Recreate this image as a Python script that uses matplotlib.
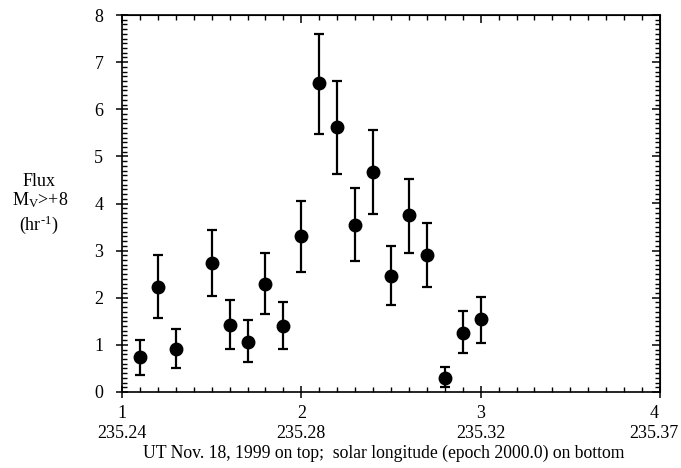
import matplotlib
matplotlib.use("Agg")
import matplotlib.pyplot as plt
import matplotlib.transforms as mtransforms
from matplotlib.ticker import MultipleLocator, NullFormatter

plt.rcParams['font.family'] = ['Liberation Serif', 'DejaVu Serif']
plt.rcParams['mathtext.fontset'] = 'custom'
plt.rcParams['mathtext.rm'] = 'Liberation Serif'
plt.rcParams['mathtext.it'] = 'Liberation Serif:italic'

x = [1.1, 1.2, 1.3, 1.5, 1.6, 1.7, 1.8, 1.9, 2.0, 2.1, 2.2, 2.3, 2.4, 2.5, 2.6, 2.7, 2.8, 2.9, 3.0]
flux = [0.75, 2.23, 0.92, 2.73, 1.43, 1.07, 2.30, 1.40, 3.30, 6.55, 5.63, 3.55, 4.67, 2.47, 3.75, 2.90, 0.30, 1.25, 1.55]
err_low = [0.37, 1.58, 0.50, 2.03, 0.92, 0.63, 1.65, 0.92, 2.55, 5.47, 4.63, 2.77, 3.78, 1.84, 2.96, 2.22, 0.10, 0.82, 1.05]
err_high = [1.10, 2.90, 1.33, 3.43, 1.96, 1.52, 2.96, 1.90, 4.05, 7.60, 6.60, 4.32, 5.57, 3.10, 4.53, 3.58, 0.52, 1.72, 2.02]
xtick_vals = [1, 2, 3, 4]
xtick_labels = ["1\n235.24", "2\n235.28", "3\n235.32", "4\n235.37"]
ytick_vals = [0, 1, 2, 3, 4, 5, 6, 7, 8]

yerr = [[f - lo for f, lo in zip(flux, err_low)], [hi - f for f, hi in zip(flux, err_high)]]

fig = plt.figure(figsize=(6.81, 4.68), dpi=100)
ax = fig.add_axes([122/681, 1-392/468, (660-122)/681, (392-15)/468])

ax.errorbar(x, flux, yerr=yerr, fmt='o', color='black', ms=9, capsize=3.5,
            elinewidth=1.6, capthick=1.6, zorder=3)

ax.set_xlim(1, 4)
ax.set_ylim(0, 8)
ax.set_xticks(xtick_vals)
ax.set_xticklabels(xtick_labels, linespacing=1.25)
ax.set_yticks(ytick_vals)
ax.xaxis.set_minor_locator(MultipleLocator(0.1))
ax.yaxis.set_minor_locator(MultipleLocator(0.1))
ax.tick_params(which='major', direction='inout', length=9, width=1.1, labelsize=13)
ax.tick_params(which='minor', direction='in', length=3.5, width=1.0)
ax.tick_params(axis='x', which='major', pad=5)
ax.tick_params(axis='y', which='major', pad=9)
for s in ax.spines.values():
    s.set_linewidth(1.2)

# nudge the last bottom label left so it fits, as in the reference
last = ax.get_xticklabels()[-1]
last.set_transform(last.get_transform() + mtransforms.ScaledTranslation(-6/100, 0, fig.dpi_scale_trans))

top = ax.secondary_xaxis('top')
top.set_xticks(xtick_vals)
top.xaxis.set_minor_locator(MultipleLocator(0.1))
top.xaxis.set_major_formatter(NullFormatter())
top.tick_params(which='major', direction='in', length=6, width=1.1)
top.tick_params(which='minor', direction='in', length=3.5, width=1.0)

right = ax.secondary_yaxis('right')
right.set_yticks(ytick_vals)
right.yaxis.set_minor_locator(MultipleLocator(0.1))
right.yaxis.set_major_formatter(NullFormatter())
right.tick_params(which='major', direction='in', length=6, width=1.1)
right.tick_params(which='minor', direction='in', length=3.5, width=1.0)

fig.text(384/681, 1-453/468, "UT Nov. 18, 1999 on top;  solar longitude (epoch 2000.0) on bottom",
         ha='center', va='center', fontsize=12.7)

fig.text(39/681, 1-182/468, "Flux", ha='center', va='center', fontsize=13)
fig.text(40/681, 1-200/468, r"M$_{\mathrm{V}}$>+8", ha='center', va='center', fontsize=13)
fig.text(39/681, 1-225/468, r"(hr$^{\text{-}1}$)", ha='center', va='center', fontsize=13)

fig.savefig("out.png", dpi=100)
